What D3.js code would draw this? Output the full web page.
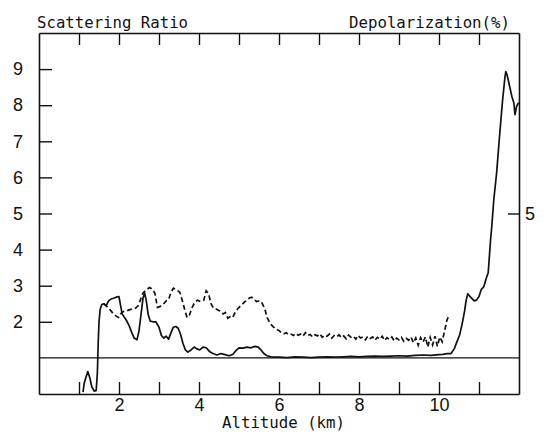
<!DOCTYPE html>
<html>
<head>
<meta charset="utf-8">
<script src="https://cdn.jsdelivr.net/npm/d3@7"></script>
<style>
  html, body { margin: 0; padding: 0; background: #fff; }
  svg { display: block; }
</style>
</head>
<body>
<svg id="chart" width="545" height="434"></svg>
<script>
// ---------------- DATA ----------------
const xTickValues = [1, 2, 3, 4, 5, 6, 7, 8, 9, 10, 11];
const xTickLabels = [2, 4, 6, 8, 10];
const yTickValues = [2, 3, 4, 5, 6, 7, 8, 9];
const y2TickValues = [5];
const referenceRatio = 1;

// Scattering ratio (solid)
const ratioAltitude = [
  1.10, 1.13, 1.17, 1.22, 1.27, 1.32, 1.38, 1.43, 1.46, 1.48, 1.50, 1.53, 1.57, 1.62, 1.68, 1.74, 1.80, 1.88, 1.95, 2.00,
  2.04, 2.08, 2.12, 2.18, 2.25, 2.32, 2.38, 2.45, 2.50, 2.55, 2.60, 2.64, 2.68, 2.73, 2.78, 2.85, 2.92, 3.00, 3.06, 3.12,
  3.18, 3.24, 3.30, 3.36, 3.42, 3.48, 3.54, 3.60, 3.66, 3.72, 3.80, 3.88, 3.95, 4.02, 4.10, 4.18, 4.26, 4.35, 4.45, 4.55,
  4.65, 4.75, 4.85, 4.92, 5.00, 5.10, 5.20, 5.30, 5.40, 5.48, 5.55, 5.62, 5.70, 5.80, 5.90, 6.00, 6.20, 6.40, 6.60, 6.80,
  7.00, 7.20, 7.40, 7.60, 7.80, 8.00, 8.20, 8.40, 8.60, 8.80, 9.00, 9.20, 9.40, 9.60, 9.80, 10.00, 10.10, 10.20, 10.30, 10.38,
  10.45, 10.52, 10.58, 10.64, 10.68, 10.72, 10.76, 10.82, 10.88, 10.94, 11.00, 11.06, 11.12, 11.18, 11.23, 11.29, 11.32, 11.37, 11.44, 11.52,
  11.59, 11.65, 11.67, 11.70, 11.75, 11.82, 11.87, 11.90, 11.94, 11.99
];
const ratioValues = [
  0.05, 0.30, 0.45, 0.62, 0.45, 0.20, 0.08, 0.10, 0.60, 1.40, 2.00, 2.35, 2.48, 2.50, 2.45, 2.58, 2.63, 2.66, 2.69, 2.70,
  2.45, 2.22, 2.15, 2.05, 1.90, 1.70, 1.55, 1.50, 1.75, 2.20, 2.65, 2.80, 2.60, 2.20, 2.02, 2.00, 2.00, 1.85, 1.62, 1.55,
  1.60, 1.52, 1.70, 1.85, 1.87, 1.82, 1.65, 1.40, 1.22, 1.16, 1.22, 1.30, 1.25, 1.22, 1.30, 1.28, 1.18, 1.12, 1.08, 1.12,
  1.09, 1.06, 1.10, 1.20, 1.28, 1.27, 1.30, 1.28, 1.32, 1.30, 1.22, 1.12, 1.06, 1.03, 1.02, 1.02, 1.01, 1.03, 1.02, 1.01,
  1.02, 1.03, 1.02, 1.03, 1.04, 1.03, 1.04, 1.05, 1.04, 1.05, 1.06, 1.05, 1.07, 1.08, 1.07, 1.09, 1.10, 1.12, 1.12, 1.25,
  1.45, 1.65, 1.95, 2.30, 2.60, 2.78, 2.72, 2.65, 2.58, 2.60, 2.70, 2.90, 2.97, 3.20, 3.36, 4.28, 4.65, 5.38, 6.12, 7.23,
  8.14, 8.79, 8.93, 8.85, 8.60, 8.25, 8.07, 7.74, 7.97, 8.07
];

// Depolarization % (dashed)
const depAltitude = [
  1.62, 1.70, 1.78, 1.86, 1.94, 1.99, 2.04, 2.10, 2.18, 2.26, 2.34, 2.42, 2.48, 2.54, 2.60, 2.68, 2.76, 2.84, 2.90, 2.96,
  3.02, 3.10, 3.18, 3.24, 3.30, 3.36, 3.44, 3.52, 3.58, 3.64, 3.70, 3.76, 3.82, 3.90, 3.96, 4.04, 4.12, 4.18, 4.24, 4.30,
  4.36, 4.44, 4.52, 4.60, 4.66, 4.72, 4.78, 4.84, 4.90, 4.96, 5.02, 5.08, 5.14, 5.20, 5.26, 5.32, 5.38, 5.44, 5.50, 5.56,
  5.62, 5.66, 5.70, 5.76, 5.82, 5.88, 5.94, 6.00, 6.06, 6.12, 6.18, 6.24, 6.30, 6.36, 6.42, 6.48, 6.54, 6.60, 6.66, 6.72,
  6.78, 6.84, 6.90, 6.96, 7.02, 7.08, 7.14, 7.20, 7.26, 7.32, 7.38, 7.44, 7.50, 7.56, 7.62, 7.68, 7.74, 7.80, 7.86, 7.92,
  7.98, 8.04, 8.10, 8.16, 8.22, 8.28, 8.34, 8.40, 8.46, 8.52, 8.58, 8.64, 8.70, 8.76, 8.82, 8.88, 8.94, 9.00, 9.06, 9.12,
  9.18, 9.24, 9.30, 9.36, 9.42, 9.48, 9.54, 9.60, 9.66, 9.72, 9.78, 9.84, 9.90, 9.96, 10.02, 10.08, 10.14, 10.20, 10.24
];
const depValues = [
  2.50, 2.42, 2.33, 2.22, 2.15, 2.12, 2.22, 2.28, 2.30, 2.33, 2.36, 2.38, 2.45, 2.62, 2.80, 2.88, 2.95, 2.90, 2.78, 2.40,
  2.42, 2.48, 2.58, 2.62, 2.82, 2.93, 2.88, 2.82, 2.60, 2.35, 2.12, 2.18, 2.38, 2.55, 2.60, 2.56, 2.60, 2.86, 2.78, 2.50,
  2.38, 2.35, 2.30, 2.22, 2.26, 2.10, 2.14, 2.12, 2.25, 2.35, 2.42, 2.48, 2.55, 2.60, 2.66, 2.68, 2.62, 2.56, 2.58, 2.55,
  2.42, 2.30, 2.12, 2.00, 1.90, 1.84, 1.78, 1.76, 1.70, 1.67, 1.70, 1.64, 1.66, 1.62, 1.68, 1.63, 1.66, 1.60, 1.70, 1.62,
  1.65, 1.58, 1.64, 1.61, 1.67, 1.57, 1.63, 1.60, 1.66, 1.55, 1.62, 1.58, 1.64, 1.56, 1.61, 1.53, 1.63, 1.57, 1.60, 1.52,
  1.62, 1.55, 1.58, 1.50, 1.60, 1.54, 1.58, 1.49, 1.57, 1.52, 1.60, 1.48, 1.56, 1.51, 1.58, 1.47, 1.55, 1.50, 1.57, 1.46,
  1.54, 1.49, 1.58, 1.42, 1.55, 1.35, 1.56, 1.44, 1.58, 1.30, 1.57, 1.36, 1.60, 1.32, 1.58, 1.45, 1.75, 2.05, 2.15
];

// ---------------- CHART ----------------
const svg = d3.select("#chart");
svg.append("rect").attr("width", 545).attr("height", 434).attr("fill", "#fff");

const mLeft = 39, mRight = 519, mTop = 33, mBottom = 394;
const x = d3.scaleLinear().domain([0, 12]).range([mLeft, mRight]);
const y = d3.scaleLinear().domain([0, 10]).range([mBottom, mTop]);
const y2 = d3.scaleLinear().domain([0, 10]).range([mBottom, mTop]);

const ink = "#111";
const tickFont = "'Liberation Sans Narrow', 'Liberation Sans', Arial, sans-serif";
const monoFont = "'DejaVu Sans Mono', 'Liberation Mono', monospace";

function styleAxis(g) {
  g.selectAll("path.domain").attr("stroke", ink).attr("stroke-width", 1.6);
  g.selectAll(".tick line").attr("stroke", ink).attr("stroke-width", 1.4);
  g.selectAll(".tick text").attr("fill", ink).attr("font-family", tickFont).attr("font-size", 18);
}

svg.append("g").attr("transform", `translate(0,${mBottom})`)
  .call(d3.axisBottom(x).tickValues(xTickValues).tickSize(-12).tickSizeOuter(0).tickPadding(4)
    .tickFormat(d => xTickLabels.includes(d) ? d : ""))
  .call(styleAxis);

svg.append("g").attr("transform", `translate(0,${mTop})`)
  .call(d3.axisTop(x).tickValues(xTickValues).tickSize(-12).tickSizeOuter(0).tickFormat(""))
  .call(styleAxis);

svg.append("g").attr("transform", `translate(${mLeft},0)`)
  .call(d3.axisLeft(y).tickValues(yTickValues).tickSize(-13).tickSizeOuter(0).tickPadding(16).tickFormat(d3.format("d")))
  .call(styleAxis);

svg.append("g").attr("transform", `translate(${mRight},0)`)
  .call(d3.axisRight(y2).tickValues(y2TickValues).tickSize(-11).tickSizeOuter(0).tickPadding(6).tickFormat(d3.format("d")))
  .call(styleAxis);

// Reference line at ratio 1
svg.append("line")
  .attr("x1", x(0)).attr("x2", x(12))
  .attr("y1", y(referenceRatio)).attr("y2", y(referenceRatio))
  .attr("stroke", ink).attr("stroke-width", 1.4);

// Scattering ratio curve
const ratioData = ratioAltitude.map((a, i) => [a, ratioValues[i]]);
svg.append("path")
  .datum(ratioData)
  .attr("fill", "none").attr("stroke", ink).attr("stroke-width", 1.7)
  .attr("stroke-linejoin", "round")
  .attr("d", d3.line().x(d => x(d[0])).y(d => y(d[1])));

// Depolarization curve
const depData = depAltitude.map((a, i) => [a, depValues[i]]);
svg.append("path")
  .datum(depData)
  .attr("fill", "none").attr("stroke", ink).attr("stroke-width", 1.7)
  .attr("stroke-dasharray", "5,3")
  .attr("d", d3.line().x(d => x(d[0])).y(d => y2(d[1])));

// Titles
svg.append("text").attr("x", 37).attr("y", 28)
  .attr("font-family", monoFont).attr("font-size", 16).attr("fill", ink)
  .attr("textLength", 151).attr("lengthAdjust", "spacingAndGlyphs")
  .text("Scattering Ratio");

svg.append("text").attr("x", 349).attr("y", 28)
  .attr("font-family", monoFont).attr("font-size", 16).attr("fill", ink)
  .attr("textLength", 161).attr("lengthAdjust", "spacingAndGlyphs")
  .text("Depolarization(%)");

svg.append("text").attr("x", 222).attr("y", 428)
  .attr("font-family", monoFont).attr("font-size", 16).attr("fill", ink)
  .attr("textLength", 123).attr("lengthAdjust", "spacingAndGlyphs")
  .text("Altitude (km)");
</script>
</body>
</html>
